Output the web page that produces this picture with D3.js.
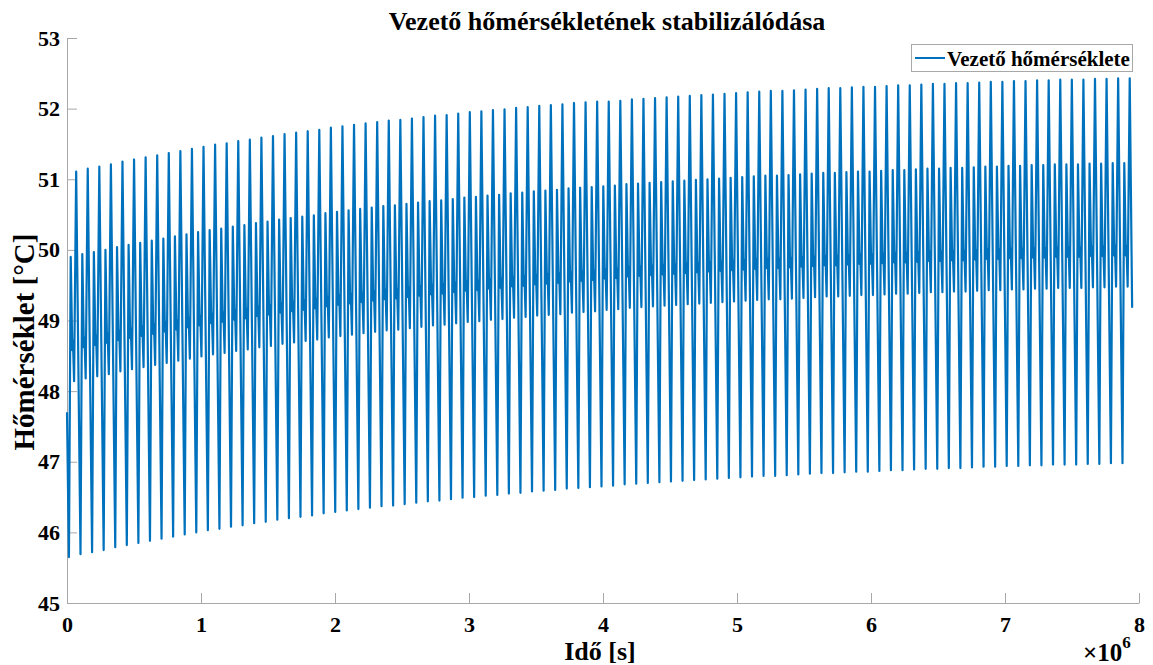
<!DOCTYPE html>
<html>
<head>
<meta charset="utf-8">
<script src="https://cdn.jsdelivr.net/npm/d3@7"></script>
<style>
  html, body { margin: 0; padding: 0; background: #fff; }
  svg { display: block; font-family: "Liberation Serif", "Times New Roman", serif; }
</style>
</head>
<body>
<svg id="chart" width="1153" height="665"></svg>
<script>
// ---- data ----
const titleText = "Vezető hőmérsékletének stabilizálódása";
const xLabel = "Idő [s]";
const yLabel = "Hőmérséklet [°C]";
const legendLabel = "Vezető hőmérséklete";
const xTicks = [0, 1e6, 2e6, 3e6, 4e6, 5e6, 6e6, 7e6, 8e6];
const xTickLabels = ["0", "1", "2", "3", "4", "5", "6", "7", "8"];
const yTicks = [45, 46, 47, 48, 49, 50, 51, 52, 53];

// daily cycle: hour-of-day of each characteristic point
const phaseHours = [4, 7.7, 11, 12.3, 14.7, 19];
const startValue = 47.7;   // t = 0
const endValue = 49.18;    // t = 92 days

// per-day values (92 days)
const lowPeak = [45.65,45.69,45.72,45.75,45.79,45.82,45.85,45.88,45.91,45.94,45.97,46.00,46.03,46.05,46.08,46.10,46.13,46.15,46.18,46.20,46.22,46.24,46.27,46.29,46.31,46.33,46.35,46.37,46.38,46.40,46.42,46.44,46.45,46.47,46.49,46.50,46.52,46.53,46.55,46.56,46.58,46.59,46.60,46.62,46.63,46.64,46.65,46.66,46.68,46.69,46.70,46.71,46.72,46.73,46.74,46.75,46.76,46.77,46.78,46.79,46.80,46.80,46.81,46.82,46.83,46.84,46.84,46.85,46.86,46.86,46.87,46.88,46.88,46.89,46.90,46.90,46.91,46.91,46.92,46.93,46.93,46.94,46.94,46.95,46.95,46.96,46.96,46.96,46.97,46.97,46.98,46.98];
const midPeak = [49.90,49.94,49.97,50.00,50.04,50.07,50.10,50.13,50.16,50.19,50.22,50.25,50.28,50.30,50.33,50.35,50.38,50.40,50.43,50.45,50.47,50.49,50.52,50.54,50.56,50.58,50.60,50.62,50.63,50.65,50.67,50.69,50.70,50.72,50.74,50.75,50.77,50.78,50.80,50.81,50.83,50.84,50.85,50.87,50.88,50.89,50.90,50.91,50.93,50.94,50.95,50.96,50.97,50.98,50.99,51.00,51.01,51.02,51.03,51.04,51.05,51.05,51.06,51.07,51.08,51.09,51.09,51.10,51.11,51.11,51.12,51.13,51.13,51.14,51.15,51.15,51.16,51.16,51.17,51.18,51.18,51.19,51.19,51.20,51.20,51.21,51.21,51.21,51.22,51.22,51.23,51.23];
const kinkDip = [48.58,48.62,48.65,48.68,48.72,48.75,48.78,48.81,48.84,48.87,48.90,48.93,48.96,48.98,49.01,49.03,49.06,49.08,49.11,49.13,49.15,49.17,49.20,49.22,49.24,49.26,49.28,49.30,49.31,49.33,49.35,49.37,49.38,49.40,49.42,49.43,49.45,49.46,49.48,49.49,49.51,49.52,49.53,49.55,49.56,49.57,49.59,49.60,49.62,49.63,49.64,49.65,49.66,49.67,49.68,49.69,49.70,49.71,49.72,49.73,49.74,49.74,49.75,49.76,49.77,49.78,49.78,49.79,49.80,49.80,49.81,49.82,49.82,49.83,49.84,49.84,49.85,49.85,49.86,49.87,49.87,49.88,49.88,49.89,49.89,49.90,49.90,49.90,49.91,49.91,49.92,49.92];
const kinkBump = [48.72,48.76,48.79,48.82,48.86,48.89,48.92,48.95,48.98,49.01,49.04,49.07,49.10,49.12,49.15,49.17,49.20,49.22,49.25,49.27,49.29,49.31,49.34,49.36,49.38,49.40,49.42,49.44,49.45,49.47,49.49,49.51,49.52,49.54,49.56,49.57,49.59,49.60,49.62,49.63,49.65,49.66,49.67,49.69,49.70,49.71,49.73,49.74,49.76,49.77,49.78,49.79,49.80,49.81,49.82,49.83,49.84,49.85,49.86,49.87,49.88,49.88,49.89,49.90,49.91,49.92,49.92,49.93,49.94,49.94,49.95,49.96,49.96,49.97,49.98,49.98,49.99,49.99,50.00,50.01,50.01,50.02,50.02,50.03,50.03,50.04,50.04,50.04,50.05,50.05,50.06,50.06];
const midLow = [48.14,48.18,48.21,48.24,48.28,48.31,48.34,48.37,48.40,48.43,48.46,48.49,48.52,48.54,48.57,48.59,48.62,48.64,48.67,48.69,48.71,48.73,48.76,48.78,48.80,48.82,48.84,48.86,48.87,48.89,48.91,48.93,48.94,48.96,48.98,48.99,49.01,49.02,49.04,49.05,49.07,49.08,49.09,49.11,49.12,49.13,49.15,49.16,49.18,49.19,49.20,49.21,49.22,49.23,49.24,49.25,49.26,49.27,49.28,49.29,49.30,49.30,49.31,49.32,49.33,49.34,49.34,49.35,49.36,49.36,49.37,49.38,49.38,49.39,49.40,49.40,49.41,49.41,49.42,49.43,49.43,49.44,49.44,49.45,49.45,49.46,49.46,49.46,49.47,49.47,49.48,49.48];
const highPeak = [51.11,51.15,51.18,51.21,51.25,51.28,51.31,51.34,51.37,51.40,51.43,51.46,51.49,51.51,51.54,51.56,51.59,51.61,51.64,51.66,51.68,51.70,51.73,51.75,51.77,51.79,51.81,51.83,51.84,51.86,51.88,51.90,51.91,51.93,51.95,51.96,51.98,51.99,52.01,52.02,52.04,52.05,52.06,52.08,52.09,52.10,52.10,52.11,52.13,52.14,52.15,52.16,52.17,52.18,52.19,52.20,52.21,52.22,52.23,52.24,52.25,52.25,52.26,52.27,52.28,52.29,52.29,52.30,52.31,52.31,52.32,52.33,52.33,52.34,52.35,52.35,52.36,52.36,52.37,52.38,52.38,52.39,52.39,52.40,52.40,52.41,52.41,52.41,52.42,52.42,52.43,52.43];

const phaseSeries = [lowPeak, midPeak, kinkDip, kinkBump, midLow, highPeak];
const nDays = lowPeak.length;

// build the time series
const series = [{ t: 0, v: startValue }];
for (let d = 0; d < nDays; d++) {
  phaseSeries.forEach((arr, k) => {
    series.push({ t: (d * 24 + phaseHours[k]) * 3600, v: arr[d] });
  });
}
series.push({ t: nDays * 24 * 3600, v: endValue });

// ---- drawing ----
const svg = d3.select("#chart");
const W = 1153, H = 665;
const m = { left: 67, right: 14, top: 38, bottom: 62 };
const x = d3.scaleLinear().domain([0, 8e6]).range([m.left, W - m.right]);
const y = d3.scaleLinear().domain([45, 53]).range([H - m.bottom, m.top]);

const axisColor = "#a8a8a8";
const fontFam = '"Liberation Serif", "Times New Roman", serif';

// x axis
const gx = svg.append("g")
  .attr("transform", `translate(0,${y(45)})`)
  .call(d3.axisBottom(x).tickValues(xTicks)
    .tickFormat((d, i) => xTickLabels[i])
    .tickSizeInner(-10).tickSizeOuter(0).tickPadding(0));
gx.select(".domain").attr("stroke", axisColor);
gx.selectAll(".tick line").attr("stroke", axisColor);
gx.selectAll(".tick text")
  .attr("dy", null).attr("y", 29)
  .attr("fill", "#000").style("font-size", "22px").style("font-weight", "bold")
  .style("font-family", fontFam);

// y axis
const gy = svg.append("g")
  .attr("transform", `translate(${x(0)},0)`)
  .call(d3.axisLeft(y).tickValues(yTicks)
    .tickFormat(d3.format("d"))
    .tickSizeInner(-10).tickSizeOuter(0).tickPadding(7));
gy.select(".domain").attr("stroke", axisColor);
gy.selectAll(".tick line").attr("stroke", axisColor);
gy.selectAll(".tick text")
  .attr("fill", "#000").style("font-size", "22px").style("font-weight", "bold")
  .style("font-family", fontFam);

// data line
const line = d3.line().x(d => x(d.t)).y(d => y(d.v));
svg.append("path")
  .datum(series)
  .attr("fill", "none")
  .attr("stroke", "#0072BD")
  .attr("stroke-width", 2.2)
  .attr("stroke-linejoin", "round")
  .attr("d", line);

// title
svg.append("text")
  .attr("x", 607).attr("y", 30)
  .attr("text-anchor", "middle")
  .style("font-size", "26px").style("font-weight", "bold")
  .text(titleText);

// axis labels
svg.append("text")
  .attr("x", 600).attr("y", 660)
  .attr("text-anchor", "middle")
  .style("font-size", "26px").style("font-weight", "bold")
  .text(xLabel);

svg.append("text")
  .attr("transform", `translate(34,342) rotate(-90)`)
  .attr("text-anchor", "middle")
  .style("font-size", "29px").style("font-weight", "bold")
  .text(yLabel);

// exponent
const ex = svg.append("text")
  .attr("x", 1083).attr("y", 661)
  .style("font-size", "25px").style("font-weight", "bold");
ex.append("tspan").text("×10");
ex.append("tspan").attr("dy", -13).style("font-size", "17px").text("6");

// legend
const lg = svg.append("g");
lg.append("rect")
  .attr("x", 911.5).attr("y", 44.5).attr("width", 221).attr("height", 27)
  .attr("fill", "#fff").attr("stroke", axisColor);
lg.append("line")
  .attr("x1", 915).attr("x2", 945).attr("y1", 58).attr("y2", 58)
  .attr("stroke", "#0072BD").attr("stroke-width", 2);
lg.append("text")
  .attr("x", 947).attr("y", 65.5)
  .style("font-size", "21px").style("font-weight", "bold")
  .text(legendLabel);
</script>
</body>
</html>
